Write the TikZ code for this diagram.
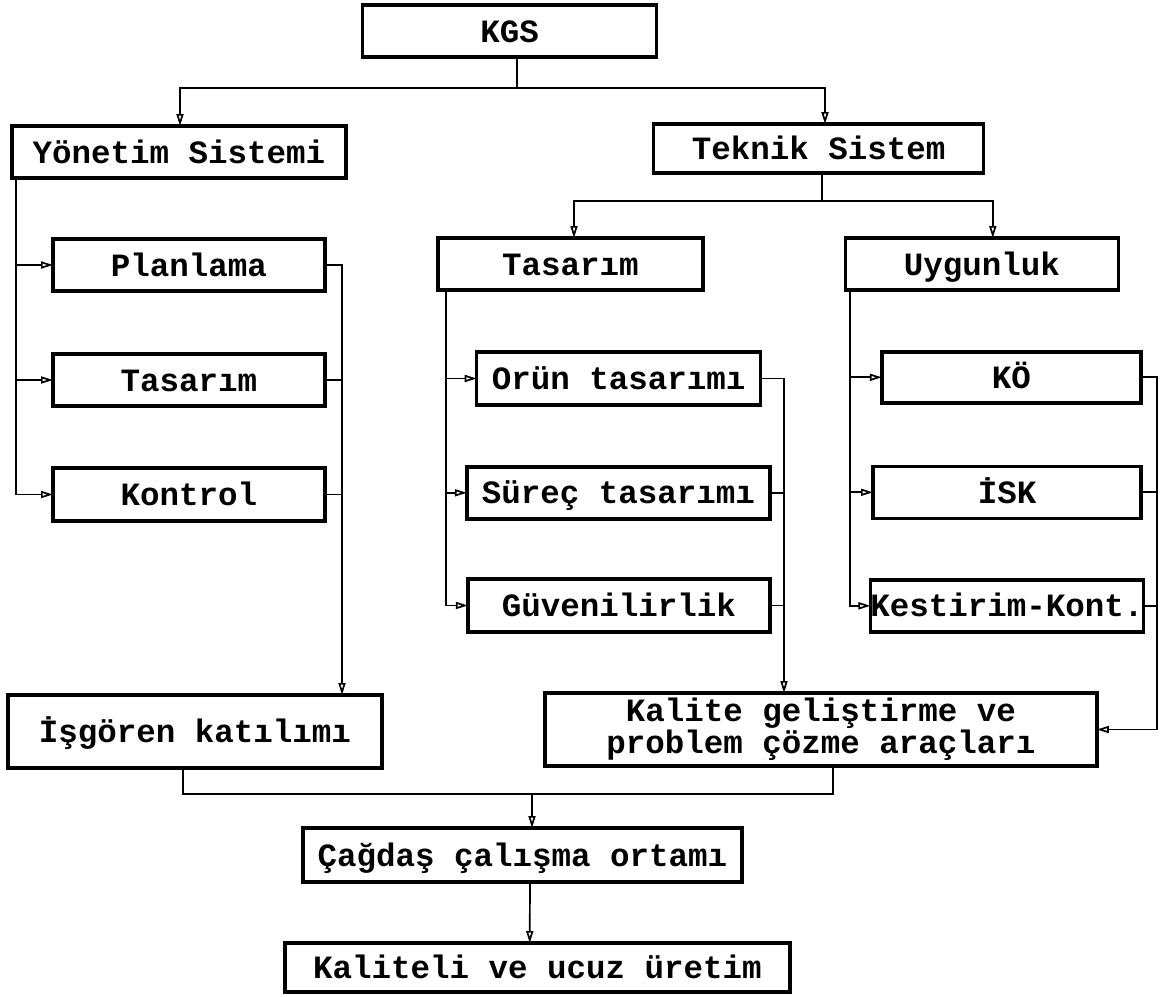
\documentclass[tikz,border=0pt]{standalone}
\usepackage{fontspec}
\setmonofont{Liberation Mono}
\usetikzlibrary{arrows.meta}
\begin{document}
\begin{tikzpicture}[x=1pt,y=-1pt,
  bbase/.style={draw, line width=3.4pt, fill=white, inner sep=0pt, outer sep=0pt,
    font=\ttfamily\bfseries\fontsize{32.5}{24}\selectfont, align=center},
  box/.style={bbase, text height=25pt, text depth=3pt},
  conn/.style={line width=1.7pt},
  arr/.style={conn, -{Triangle[open,length=12pt,width=7pt]}}]
\useasboundingbox (0,0) rectangle (1164,996);

% nodes
\node[box, minimum width=294pt, minimum height=52pt] (kgs) at (509.7,31) {KGS};
\node[box, minimum width=334pt, minimum height=52pt] (yon) at (178.8,152) {Yönetim Sistemi};
\node[box, minimum width=330pt, minimum height=49pt] (tek) at (818.7,148.5) {Teknik Sistem};

\node[box, minimum width=272pt, minimum height=52pt] (pla) at (189,265) {Planlama};
\node[box, minimum width=272pt, minimum height=52pt] (tasl) at (189,380) {Tasarım};
\node[box, minimum width=272pt, minimum height=53pt] (kon) at (189,494.5) {Kontrol};

\node[box, minimum width=265pt, minimum height=52pt] (tasr) at (570.5,264) {Tasarım};
\node[box, minimum width=273pt, minimum height=52pt] (uyg) at (981.8,264) {Uygunluk};

\node[box, minimum width=284pt, minimum height=53pt] (urun) at (618.7,378.5) {Orün tasarımı};
\node[box, minimum width=303pt, minimum height=52pt] (surec) at (618.3,492.8) {Süreç tasarımı};
\node[box, minimum width=302pt, minimum height=53pt] (guv) at (618.8,605.5) {Güvenilirlik};

\node[box, minimum width=259pt, minimum height=51pt] (ko) at (1011.3,377.3) {KÖ};
\node[box, minimum width=268pt, minimum height=52pt] (isk) at (1007,492.3) {İSK};
\node[box, minimum width=268pt, minimum height=52pt] (kes) at (1007,605.8) {Kestirim-Kont.};

\node[box, minimum width=374pt, minimum height=73pt] (isg) at (195,731.5) {İşgören katılımı};
\node[bbase, minimum width=552pt, minimum height=73pt] (kal) at (820.8,729.5) {Kalite geliştirme ve\\[0pt]problem çözme araçları};

\node[box, minimum width=439pt, minimum height=54pt] (cag) at (522.3,855) {Çağdaş çalışma ortamı};
\node[box, minimum width=505pt, minimum height=49pt] (ucuz) at (537.5,967.5) {Kaliteli ve ucuz üretim};

% junction coordinates
\coordinate (j1) at (516.7,88);
\coordinate (j2) at (822,201);
\coordinate (lc) at (342,0);
\coordinate (mc) at (784,0);
\coordinate (rc) at (1157,0);
\coordinate (j3) at (532,794);

% KGS -> systems
\draw[conn] (kgs.south -| j1) -- (j1);
\draw[arr] (j1) -| ([xshift=1.2pt]yon.north);
\draw[arr] (j1) -| ([xshift=6.3pt]tek.north);

% Teknik -> Tasarim, Uygunluk
\draw[conn] (tek.south -| j2) -- (j2);
\draw[arr] (j2) -| ([xshift=3.5pt]tasr.north);
\draw[arr] (j2) -| ([xshift=11pt]uyg.north);

% Yonetim branches
\coordinate (ya) at ([xshift=4.5pt]yon.south west);
\draw[arr] (ya) |- (pla.west);
\draw[arr] (ya) |- (tasl.west);
\draw[arr] (ya) |- (kon.west);

% left collector -> Isgoren
\draw[arr] (pla.east) -| (lc |- isg.north);
\draw[conn] (tasl.east) -- (tasl.east -| lc);
\draw[conn] (kon.east) -- (kon.east -| lc);

% Tasarim branches
\coordinate (ta) at ([xshift=8pt]tasr.south west);
\draw[arr] (ta) |- (urun.west);
\draw[arr] (ta) |- (surec.west);
\draw[arr] (ta) |- (guv.west);

% middle collector -> Kalite
\draw[arr] (urun.east) -| (mc |- kal.north);
\draw[conn] (surec.east) -- (surec.east -| mc);
\draw[conn] (guv.east) -- (guv.east -| mc);

% Uygunluk branches
\coordinate (ua) at ([xshift=5pt]uyg.south west);
\draw[arr] (ua) |- (ko.west);
\draw[arr] (ua) |- (isk.west);
\draw[arr] (ua) |- (kes.west);

% right collector -> Kalite
\draw[conn] (ko.east) -| (rc |- kal.east);
\draw[conn] (isk.east) -- (isk.east -| rc);
\draw[conn] (kes.east) -- (kes.east -| rc);
\draw[arr] (rc |- kal.east) -- (kal.east);

% bottom
\draw[conn] ([xshift=-12pt]isg.south) |- (j3);
\draw[conn] ([xshift=12pt]kal.south) |- (j3);
\draw[arr] (j3) -- (j3 |- cag.north);
\draw[arr] ([xshift=7.7pt]cag.south) -- ([xshift=-7.8pt]ucuz.north);
\end{tikzpicture}
\end{document}
